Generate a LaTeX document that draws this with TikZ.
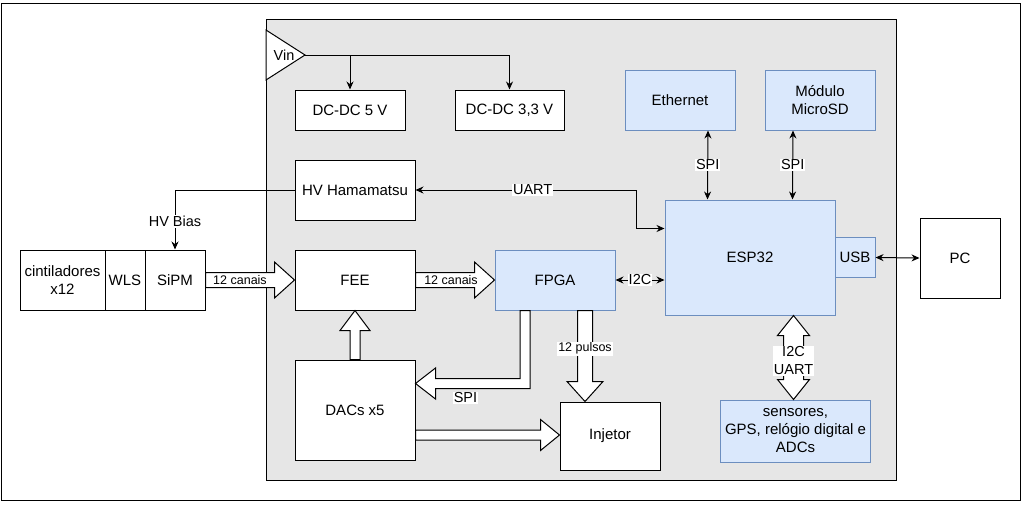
\documentclass[tikz,border=0pt]{standalone}
\usepackage{fontspec}
\setmainfont{Liberation Sans}
\usetikzlibrary{calc,arrows.meta}
\definecolor{bluefill}{HTML}{DAE8FC}
\definecolor{bluedraw}{HTML}{6C8EBF}
\definecolor{greyfill}{HTML}{E6E6E6}
\tikzset{
  box/.style={draw=black, fill=white, line width=1pt, inner sep=0pt, align=center, font=\fontsize{15}{18}\selectfont},
  bluebox/.style={box, fill=bluefill, draw=bluedraw},
  oneway/.style={line width=1pt, -{Stealth[length=8pt,width=7pt]}},
  twoway/.style={line width=1pt, {Stealth[length=8pt,width=7pt]}-{Stealth[length=8pt,width=7pt]}},
  lbl/.style={fill=white, inner sep=1pt, font=\fontsize{14.5}{16}\selectfont},
  smalllbl/.style={inner sep=1pt, font=\fontsize{12.5}{14}\selectfont},
  barrow/.style={draw=black, fill=white, line width=1pt, line join=miter}
}
\newcommand\blkH[5]{\draw[barrow] ($(#1)+(0,-#3)$) -- ($(#2)+(-#5,-#3)$) -- ($(#2)+(-#5,-#4)$) -- (#2) -- ($(#2)+(-#5,#4)$) -- ($(#2)+(-#5,#3)$) -- ($(#1)+(0,#3)$) -- cycle;}
\newcommand\blkU[5]{\draw[barrow] ($(#1)+(-#3,0)$) -- ($(#2)+(-#3,#5)$) -- ($(#2)+(-#4,#5)$) -- (#2) -- ($(#2)+(#4,#5)$) -- ($(#2)+(#3,#5)$) -- ($(#1)+(#3,0)$) -- cycle;}
\newcommand\blkD[5]{\draw[barrow] ($(#1)+(-#3,0)$) -- ($(#2)+(-#3,-#5)$) -- ($(#2)+(-#4,-#5)$) -- (#2) -- ($(#2)+(#4,-#5)$) -- ($(#2)+(#3,-#5)$) -- ($(#1)+(#3,0)$) -- cycle;}
\begin{document}
\begin{tikzpicture}[x=1pt,y=-1pt]
\useasboundingbox (0,0) rectangle (1033,512);
\draw[line width=1pt] (1.5,3.5) rectangle (1020.5,500.5);
\draw[line width=1pt, fill=greyfill] (266,19) rectangle (896,480);
% Vin
\draw[line width=1pt, fill=white] (266,30) -- (305,55) -- (266,80) -- cycle;
\node[inner sep=0pt, font=\fontsize{14.5}{16}\selectfont] (vinlbl) at (284,55) {Vin};
\coordinate (vin) at (305,55);
% nodes
\node[box, minimum width=110pt, minimum height=40pt] (dc5) at (350,110) {DC-DC 5 V};
\node[box, minimum width=109pt, minimum height=40pt] (dc33) at (509.5,110) {DC-DC 3,3 V};
\node[box, minimum width=120pt, minimum height=60pt] (hv) at (355,190) {HV Hamamatsu};
\node[box, minimum width=120pt, minimum height=60pt] (fee) at (355,280) {FEE};
\node[bluebox, minimum width=120pt, minimum height=60pt] (fpga) at (555,280) {FPGA};
\node[bluebox, minimum width=170pt, minimum height=115pt] (esp) at (750,257.5) {ESP32};
\node[bluebox, minimum width=40pt, minimum height=40pt] (usb) at (855,257.5) {USB};
\node[box, minimum width=80pt, minimum height=80pt] (pc) at (960,258) {PC};
\node[bluebox, minimum width=110pt, minimum height=60pt] (eth) at (680,100) {Ethernet};
\node[bluebox, minimum width=110pt, minimum height=60pt] (sd) at (820,100) {Módulo\\MicroSD};
\node[bluebox, minimum width=150pt, minimum height=62pt] (sens) at (795.5,431) {sensores,\\GPS, relógio digital e\\ADCs};
\node[box, minimum width=85pt, minimum height=60pt] (cint) at (62.5,280) {cintiladores\\x12};
\node[box, minimum width=40pt, minimum height=60pt] (wls) at (125,280) {WLS};
\node[box, minimum width=60pt, minimum height=60pt] (sipm) at (175,280) {SiPM};
\node[box, minimum width=120pt, minimum height=100pt] (dacs) at (355,410) {DACs x5};
\node[box, minimum width=100pt, minimum height=68pt] (inj) at (610,436) {Injetor};
% thin connectors
\draw[oneway] (vin) -| (dc5.north);
\draw[oneway] (vin) -| (dc33.north);
\draw[oneway] (hv.west) -| node[lbl, pos=0.767]{HV Bias} (sipm.north);
\draw[twoway] (hv.east) -- node[lbl, pos=0.53]{UART} ++(221,0) |- ($(esp.north west)+(0,29)$);
\draw[twoway] (fpga.east) -- node[lbl]{I2C} (esp.west |- fpga.east);
\draw[twoway] ($(eth.south)+(28,0)$) -- node[lbl]{SPI} ($(esp.north west)+(43,0)$);
\draw[twoway] ($(sd.south)+(-27,0)$) -- node[lbl]{SPI} ($(esp.north west)+(128,0)$);
\draw[twoway] (usb.east) -- (pc.west);
% block arrows
\blkH{sipm.east}{fee.west}{7.5}{18}{20}
\node[smalllbl] (l1) at (240,280) {12 canais};
\blkH{fee.east}{fpga.west}{7.5}{18}{20}
\node[smalllbl] (l2) at (451,280) {12 canais};
\blkU{dacs.north}{fee.south}{5}{15}{20}
\coordinate (d2s) at ($(dacs.east)+(0,25)$);
\coordinate (d2e) at (inj.west |- d2s);
\blkH{d2s}{d2e}{5}{15.5}{19}
\coordinate (p1s) at ($(fpga.south)+(30,0)$);
\coordinate (p1e) at (inj.north -| p1s);
\blkD{p1s}{p1e}{7.5}{18}{20}
\node[smalllbl, fill=white] (l3) at ($(p1s)!0.42!(p1e)$) {12 pulsos};
% bent SPI arrow FPGA -> DACs
\coordinate (s1) at ($(fpga.south)+(-30,0)$);
\coordinate (s2) at ($(dacs.east)+(0,-26.5)$);
\draw[barrow] ($(s1)+(-5,0)$) -- ($(s1)+(5,0)$) -- ($(s1 |- s2)+(5,5)$) -- ($(s2)+(20,5)$) -- ($(s2)+(20,15.5)$) -- (s2) -- ($(s2)+(20,-15.5)$) -- ($(s2)+(20,-5)$) -- ($(s1 |- s2)+(-5,-5)$) -- cycle;
\node[lbl] (l4) at ($(s2)+(50,14.5)$) {SPI};
% double block arrow ESP32 <-> sensores
\coordinate (u1) at ($(esp.south)+(43.5,0)$);
\coordinate (u2) at (sens.north -| u1);
\draw[barrow] (u1) -- ($(u1)+(16,20)$) -- ($(u1)+(10,20)$) -- ($(u2)+(10,-20)$) -- ($(u2)+(16,-20)$) -- (u2) -- ($(u2)+(-16,-20)$) -- ($(u2)+(-10,-20)$) -- ($(u1)+(-10,20)$) -- ($(u1)+(-16,20)$) -- cycle;
\node[lbl, align=center, font=\fontsize{14.5}{18}\selectfont] (l5) at ($(u1)!0.54!(u2)$) {I2C\\UART};
\end{tikzpicture}
\end{document}
